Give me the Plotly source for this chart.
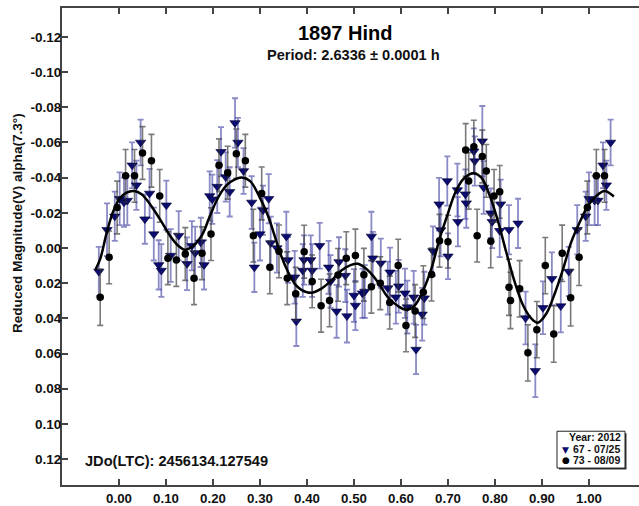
import plotly.graph_objects as go

# ---- data ----
tri_x = [-0.043, -0.0255, -0.009, 0.0014, 0.0106, 0.0177, 0.028, 0.037, 0.046, 0.055,
         0.065, 0.074, 0.0845, 0.090, 0.1007, 0.110, 0.127, 0.1447, 0.155, 0.162,
         0.174, 0.181, 0.193, 0.1985, 0.209, 0.217, 0.227, 0.2355, 0.2468, 0.253,
         0.265, 0.2823, 0.288, 0.300, 0.3064, 0.3185, 0.3227, 0.336, 0.356, 0.3596,
         0.3738, 0.3773, 0.3936, 0.391, 0.408, 0.411, 0.427, 0.446, 0.450, 0.463,
         0.468, 0.4816, 0.485, 0.500, 0.503, 0.518, 0.523, 0.537, 0.540, 0.557,
         0.572, 0.5766, 0.589, 0.595, 0.6085, 0.6134, 0.627, 0.632, 0.645, 0.6496,
         0.668, 0.681, 0.6845, 0.6985, 0.700, 0.720, 0.721, 0.737, 0.739, 0.755,
         0.757, 0.773, 0.776, 0.791, 0.794, 0.810, 0.812, 0.8298, 0.849, 0.865,
         0.8858, 0.902, 0.921, 0.940, 0.957, 0.975, 0.993, 1.000, 1.012, 1.019,
         1.0298, 1.037, 1.046]
tri_y = [0.0134, -0.0104, -0.018, -0.028, -0.026, -0.027, -0.047, -0.0357, -0.060, -0.0164,
         -0.031, -0.0079, 0.0096, 0.0128, -0.0243, 0.0043, -0.007, 0.009, -0.0013, 0.0028,
         -0.0032, 0.0096, -0.0296, -0.0277, -0.0349, -0.0547, -0.0404, -0.0319, -0.0711, -0.060,
         -0.0438, -0.0259, 0.011, -0.0079, -0.0215, -0.028, -0.0028, 0.0, -0.0066, 0.0068,
         0.0166, 0.0417, 0.0068, 0.0128, 0.0068, 0.0128, -0.0013, 0.011, 0.019, 0.036,
         0.0079, 0.0157, 0.0387, 0.027, 0.0327, 0.0257, 0.0247, -0.0066, 0.0058, 0.0087,
         0.0228, 0.0138, 0.028, 0.0217, 0.0257, 0.0336, 0.028, 0.0577, 0.0377, 0.0285,
         0.0017, -0.0249, -0.0102, -0.0381, 0.0047, -0.033, -0.0149, -0.0306, -0.0255, -0.055,
         -0.0494, -0.0607, -0.0344, -0.0198, -0.0149, -0.0098, -0.0249, -0.0104, -0.014, 0.0398,
         0.0698, 0.034, 0.0175, 0.033, 0.0134, -0.0104, -0.018, -0.028, -0.027, -0.027,
         -0.047, -0.0357, -0.060]
tri_err = [0.014, 0.015, 0.014, 0.015, 0.014, 0.014, 0.013, 0.014, 0.013, 0.014,
           0.014, 0.015, 0.014, 0.015, 0.014, 0.015, 0.014, 0.015, 0.014, 0.015,
           0.014, 0.014, 0.014, 0.014, 0.015, 0.014, 0.014, 0.014, 0.014, 0.014,
           0.013, 0.015, 0.014, 0.015, 0.014, 0.014, 0.015, 0.014, 0.014, 0.013,
           0.015, 0.014, 0.014, 0.015, 0.014, 0.015, 0.013, 0.015, 0.015, 0.015,
           0.014, 0.015, 0.015, 0.015, 0.014, 0.014, 0.015, 0.014, 0.015, 0.014,
           0.015, 0.014, 0.015, 0.015, 0.014, 0.015, 0.015, 0.014, 0.015, 0.015,
           0.014, 0.015, 0.015, 0.014, 0.013, 0.015, 0.014, 0.014, 0.014, 0.013,
           0.014, 0.020, 0.015, 0.014, 0.015, 0.015, 0.014, 0.014, 0.014, 0.015,
           0.015, 0.015, 0.015, 0.015, 0.014, 0.014, 0.014, 0.015, 0.014, 0.014,
           0.013, 0.014, 0.013]

cir_x = [-0.040, -0.021, -0.004, 0.014, 0.033, 0.050, 0.069, 0.0866, 0.104, 0.122,
         0.141, 0.1596, 0.1766, 0.1957, 0.2128, 0.2312, 0.2496, 0.2688, 0.2858, 0.3036,
         0.321, 0.3404, 0.358, 0.376, 0.394, 0.411, 0.430, 0.448, 0.466, 0.4836,
         0.503, 0.521, 0.537, 0.556, 0.576, 0.594, 0.6106, 0.630, 0.6475, 0.665,
         0.682, 0.700, 0.7376, 0.744, 0.755, 0.762, 0.773, 0.7815, 0.791, 0.798,
         0.810, 0.8298, 0.833, 0.8525, 0.870, 0.889, 0.907, 0.925, 0.943, 0.961,
         0.979, 0.9965, 1.0156, 1.033]
cir_y = [0.028, 0.0053, -0.023, -0.041, -0.041, -0.054, -0.0496, -0.0296, 0.0058, 0.0068,
         0.0034, 0.0172, 0.003, -0.0079, -0.047, -0.0428, -0.0536, -0.0496, -0.007, -0.031,
         0.011, 0.0019, 0.0172, 0.026, 0.0021, 0.019, 0.0328, 0.0298, 0.0153, 0.0058,
         0.0043, 0.0152, 0.022, 0.020, 0.031, 0.010, 0.044, 0.0358, 0.0251, 0.0151,
         -0.0041, -0.0036, -0.0557, -0.0381, -0.0576, -0.007, -0.052, -0.0438, -0.0038, -0.0296,
         -0.0319, 0.0223, 0.0298, 0.0232, 0.0596, 0.0464, 0.010, 0.0489, 0.003, 0.0283,
         0.0053, -0.023, -0.041, -0.041]
cir_err = [0.016, 0.015, 0.015, 0.015, 0.015, 0.015, 0.015, 0.015, 0.015, 0.015,
           0.015, 0.015, 0.015, 0.015, 0.015, 0.015, 0.014, 0.015, 0.015, 0.015,
           0.015, 0.015, 0.015, 0.015, 0.015, 0.015, 0.015, 0.015, 0.015, 0.015,
           0.015, 0.015, 0.015, 0.015, 0.015, 0.015, 0.015, 0.015, 0.015, 0.015,
           0.015, 0.015, 0.015, 0.016, 0.015, 0.015, 0.015, 0.015, 0.015, 0.015,
           0.015, 0.016, 0.016, 0.016, 0.016, 0.016, 0.016, 0.016, 0.016, 0.016,
           0.016, 0.015, 0.015, 0.015]

fit_x = [-0.050, -0.040, -0.026, -0.012, 0.002, 0.016, 0.032, 0.048, 0.066, 0.087,
         0.1085, 0.126, 0.140, 0.158, 0.176, 0.1936, 0.211, 0.229, 0.2468, 0.261,
         0.279, 0.296, 0.317, 0.331, 0.345, 0.360, 0.374, 0.388, 0.409, 0.430,
         0.452, 0.473, 0.494, 0.5085, 0.530, 0.551, 0.572, 0.5936, 0.611, 0.629,
         0.647, 0.6645, 0.682, 0.700, 0.714, 0.732, 0.753, 0.771, 0.789, 0.806,
         0.824, 0.842, 0.860, 0.877, 0.891, 0.909, 0.927, 0.945, 0.962, 0.980,
         0.998, 1.0156, 1.033, 1.053]
fit_y = [0.0123, 0.0062, -0.0089, -0.0211, -0.0283, -0.0315, -0.0324, -0.0306, -0.0249, -0.0164,
         -0.007, -0.0013, 0.001, -0.0013, -0.007, -0.0183, -0.0287, -0.0357, -0.039, -0.040,
         -0.038, -0.0306, -0.0183, -0.007, 0.0044, 0.0138, 0.0204, 0.0238, 0.0255, 0.0232,
         0.0185, 0.0128, 0.0096, 0.009, 0.0128, 0.0194, 0.028, 0.033, 0.0351, 0.0327,
         0.0242, 0.0119, -0.0051, -0.0197, -0.0306, -0.039, -0.0425, -0.040, -0.0296, -0.0155,
         0.0024, 0.0194, 0.0327, 0.040, 0.0425, 0.0374, 0.026, 0.0119, -0.0032, -0.0145,
         -0.024, -0.0296, -0.0324, -0.0293]

x_ticks = [0.0, 0.1, 0.2, 0.3, 0.4, 0.5, 0.6, 0.7, 0.8, 0.9, 1.0]
x_tick_text = ["0.00", "0.10", "0.20", "0.30", "0.40", "0.50", "0.60", "0.70", "0.80", "0.90", "1.00"]
y_ticks = [-0.12, -0.10, -0.08, -0.06, -0.04, -0.02, 0.0, 0.02, 0.04, 0.06, 0.08, 0.10, 0.12]
y_tick_text = ["-0.12", "-0.10", "-0.08", "-0.06", "-0.04", "-0.02", "0.00",
               "0.02", "0.04", "0.06", "0.08", "0.10", "0.12"]

legend_title = "Year: 2012"
series_names = ["67 - 07/25", "73 - 08/09"]

FONT = "Liberation Sans, Arial, sans-serif"
NAVY = "#0b0b70"

fig = go.Figure()
fig.add_trace(go.Scatter(
    x=tri_x, y=tri_y, mode="markers", name=series_names[0], showlegend=False,
    marker=dict(symbol="triangle-down", size=9, color=NAVY,
                line=dict(color="#000030", width=0.6)),
    error_y=dict(type="data", array=tri_err, visible=True,
                 color="rgba(60,60,160,0.6)", thickness=1.8, width=3),
))
fig.add_trace(go.Scatter(
    x=cir_x, y=cir_y, mode="markers", name=series_names[1], showlegend=False,
    marker=dict(symbol="circle", size=7.5, color="#000000"),
    error_y=dict(type="data", array=cir_err, visible=True,
                 color="rgba(50,50,50,0.65)", thickness=1.6, width=3),
))
fig.add_trace(go.Scatter(
    x=fit_x, y=fit_y, mode="lines", showlegend=False,
    line=dict(color="#000000", width=2.5, shape="spline", smoothing=1.0),
    hoverinfo="skip",
))

W, H = 639, 506
ml, mr, mt, mb = 62, 0, 8, 19
pw, ph = W - ml - mr, H - mt - mb

def px(x):
    return (x - ml) / pw

def py(y):
    return (H - mb - y) / ph

def ann(text, x, y, size, xanchor="center", color="#111111", angle=0, bold=True):
    return dict(text=f"<b>{text}</b>" if bold else text, x=px(x), y=py(y),
                xref="paper", yref="paper", showarrow=False, textangle=angle,
                font=dict(family=FONT, size=size, color=color),
                xanchor=xanchor, yanchor="middle")

annotations = [
    ann("1897 Hind", 345, 33, 20, color="#000000"),
    ann("Period: 2.6336 ± 0.0001 h", 354, 55, 14.6),
    ann("JDo(LTC): 2456134.127549", 83, 463, 14.6, xanchor="left"),
    ann("Reduced Magnitude(V) alpha(7.3°)", 17, 224, 13.6, angle=-90),
    # legend
    ann(legend_title, 623, 439, 10.5, xanchor="right"),
    ann("▼", 565.5, 451.5, 9, color=NAVY, bold=False),
    ann(series_names[0], 571, 451, 10.5, xanchor="left"),
    ann("●", 565.5, 462, 9, color="#000000", bold=False),
    ann(series_names[1], 571, 462, 10.5, xanchor="left"),
]
annotations[5]["font"]["family"] = "DejaVu Sans"
annotations[7]["font"]["family"] = "DejaVu Sans"

shapes = [
    # legend shadow + box
    dict(type="rect", xref="paper", yref="paper",
         x0=px(559), x1=px(626.5), y0=py(471.5), y1=py(435),
         line=dict(width=0), fillcolor="#333333", layer="above"),
    dict(type="rect", xref="paper", yref="paper",
         x0=px(557), x1=px(625), y0=py(470), y1=py(433),
         line=dict(color="#222222", width=1), fillcolor="white", layer="above"),
]

fig.update_layout(
    width=W, height=H,
    margin=dict(l=ml, r=mr, t=mt, b=mb, pad=0),
    paper_bgcolor="white", plot_bgcolor="white",
    font=dict(family=FONT, size=13, color="#111111"),
    showlegend=False,
    xaxis=dict(
        range=[-0.1213, 1.1064], tickvals=x_ticks, ticktext=x_tick_text,
        ticks="inside", ticklen=6, tickwidth=1.5, tickcolor="#444444",
        showline=True, linecolor="#444444", linewidth=2, mirror="ticks",
        showgrid=False, zeroline=False,
        tickfont=dict(family=FONT, size=13.3, color="#111111", weight="bold"),
    ),
    yaxis=dict(
        range=[0.1347, -0.1364], tickvals=y_ticks, ticktext=y_tick_text,
        ticks="inside", ticklen=6, tickwidth=1.5, tickcolor="#444444",
        showline=True, linecolor="#444444", linewidth=2, mirror=False,
        showgrid=False, zeroline=False, ticklabelstandoff=-4,
        tickfont=dict(family=FONT, size=13.5, color="#111111", weight="bold"),
    ),
    annotations=annotations,
    shapes=shapes,
)

fig.write_html("out.html")
